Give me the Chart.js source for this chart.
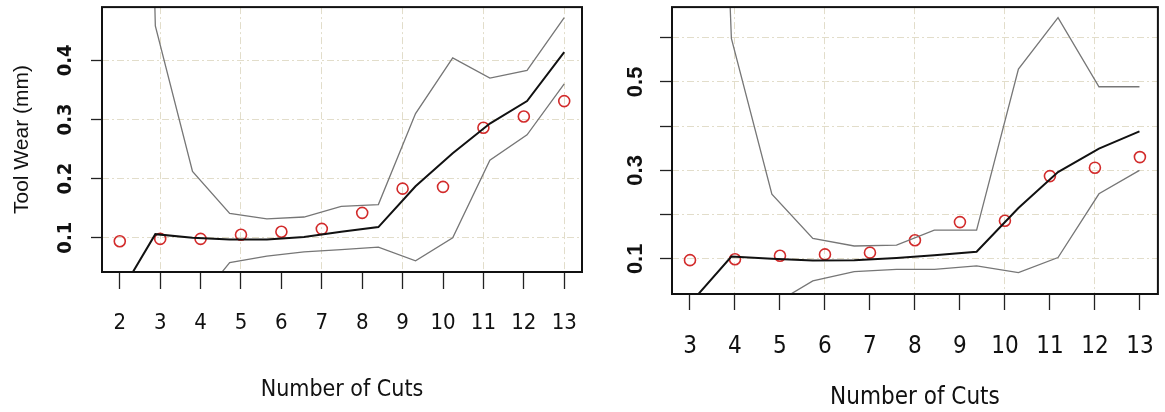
<!DOCTYPE html>
<html>
<head>
<meta charset="utf-8">
<script src="https://cdn.jsdelivr.net/npm/chart.js@4.4.1/dist/chart.umd.min.js"></script>
<style>
  html, body { margin: 0; padding: 0; background: #fff; }
  #wrap { position: relative; width: 1165px; height: 412px; }
  canvas { position: absolute; top: 0; }
  #wearLeft { left: 0; }
  #wearRight { left: 590px; }
</style>
</head>
<body>
<div id="wrap">
  <canvas id="wearLeft" width="590" height="412"></canvas>
  <canvas id="wearRight" width="575" height="412"></canvas>
</div>
<script>
// Tool wear against number of cuts: measured wear (red circles),
// fitted curve (black) and its upper / lower bounds (grey)

// left panel
const cutsLeft = [2, 3, 4, 5, 6, 7, 8, 9, 10, 11, 12, 13];
const wearLeft = [0.094, 0.098, 0.098, 0.105, 0.110, 0.115, 0.142, 0.183, 0.186, 0.286, 0.305, 0.331];
const fitXLeft = [1.96, 2.88, 3.80, 4.72, 5.64, 6.56, 7.48, 8.40, 9.32, 10.24, 11.16, 12.08, 13.00];
const fitLeft = [0.000, 0.106, 0.100, 0.097, 0.097, 0.101, 0.110, 0.118, 0.187, 0.243, 0.293, 0.331, 0.414];
const upperLeft = [3.000, 0.458, 0.212, 0.141, 0.132, 0.135, 0.153, 0.156, 0.310, 0.404, 0.370, 0.383, 0.472];
const lowerLeft = [-0.200, -0.100, -0.020, 0.058, 0.069, 0.076, 0.080, 0.084, 0.061, 0.100, 0.231, 0.274, 0.360];
const yTicksLeft = [0.1, 0.2, 0.3, 0.4];
const yLabelsLeft = ['0.1', '0.2', '0.3', '0.4'];
const xGridLeft = [3, 5, 7, 9, 11, 13];

// right panel
const cutsRight = [3, 4, 5, 6, 7, 8, 9, 10, 11, 12, 13];
const wearRight = [0.097, 0.099, 0.107, 0.110, 0.114, 0.142, 0.183, 0.186, 0.287, 0.306, 0.330];
const fitXRight = [3.01, 3.92, 4.82, 5.73, 6.65, 7.59, 8.43, 9.37, 10.30, 11.18, 12.09, 12.99];
const fitRight = [0.000, 0.105, 0.100, 0.096, 0.097, 0.102, 0.108, 0.116, 0.215, 0.296, 0.349, 0.388];
const upperRight = [3.000, 0.598, 0.246, 0.146, 0.129, 0.131, 0.165, 0.165, 0.529, 0.645, 0.489, 0.489];
const lowerRight = [-0.150, -0.060, -0.005, 0.050, 0.071, 0.076, 0.076, 0.084, 0.069, 0.103, 0.247, 0.300];
const yTicksRight = [0.1, 0.2, 0.3, 0.4, 0.5, 0.6];
const yValuesRight = [0.1, 0.3, 0.5];
const yLabelsRight = ['0.1', '0.3', '0.5'];
const xGridRight = [4, 6, 8, 10, 12];

const GRID = '#e2ddca';
const GRID_DASH = [7, 3, 2, 3];
const NARROW = "'Liberation Sans Narrow', 'DejaVu Sans Condensed', sans-serif";
const SANS = "'Liberation Sans', Arial, sans-serif";

const pairs = (xs, ys) => xs.map((x, i) => ({ x: x, y: ys[i] }));

// box round the plot region plus rotated y tick labels
const framePlugin = {
  id: 'frame',
  afterDraw(chart, args, opts) {
    const { ctx, chartArea: a } = chart;
    const y = chart.scales.y;
    ctx.save();
    ctx.strokeStyle = '#111';
    ctx.lineWidth = 2;
    ctx.strokeRect(a.left, a.top, a.right - a.left, a.bottom - a.top);
    ctx.fillStyle = '#111';
    ctx.font = opts.font;
    ctx.textAlign = 'center';
    ctx.textBaseline = 'middle';
    opts.values.forEach((v, i) => {
      ctx.save();
      ctx.translate(opts.labelX, y.getPixelForValue(v));
      ctx.rotate(-Math.PI / 2);
      ctx.fillText(opts.labels[i], 0, 0);
      ctx.restore();
    });
    ctx.restore();
  }
};

// no extra room for overhanging tick labels, the box goes edge to edge
const noOverhang = s => {
  s.paddingLeft = 0; s.paddingRight = 0;
  s.paddingTop = 0; s.paddingBottom = 0;
};

function buildPanel(canvasId, p) {
  const ctx = document.getElementById(canvasId);
  const band = {
    borderColor: '#767676', borderWidth: 1.3, pointRadius: 0, tension: 0, fill: false
  };
  return new Chart(ctx, {
    type: 'line',
    data: {
      datasets: [
        Object.assign({ data: pairs(p.fitX, p.upper) }, band),
        Object.assign({ data: pairs(p.fitX, p.lower) }, band),
        { data: pairs(p.fitX, p.fit), borderColor: '#111', borderWidth: 2, pointRadius: 0, tension: 0 },
        {
          data: pairs(p.cuts, p.wear), showLine: false,
          pointStyle: 'circle', pointRadius: 5.5,
          pointBorderColor: '#d22b2b', pointBorderWidth: 1.6,
          pointBackgroundColor: 'rgba(0,0,0,0)'
        }
      ]
    },
    options: {
      responsive: false,
      devicePixelRatio: 1,
      animation: false,
      events: [],
      layout: { padding: p.padding },
      plugins: {
        legend: { display: false },
        tooltip: { enabled: false },
        frame: { font: p.yFont, labelX: p.yLabelX, values: p.yValues, labels: p.yLabels }
      },
      scales: {
        x: {
          type: 'linear',
          min: p.xMin,
          max: p.xMax,
          afterBuildTicks: s => { s.ticks = p.cuts.map(v => ({ value: v })); },
          afterFit: s => { s.height = p.xAxisHeight; noOverhang(s); },
          grid: {
            color: c => (c.tick && p.xGrid.includes(c.tick.value)) ? GRID : 'rgba(0,0,0,0)',
            lineWidth: 1,
            borderDash: GRID_DASH,
            tickColor: '#222',
            tickWidth: 1.3,
            tickLength: p.xTickLength,
            tickBorderDash: []
          },
          border: { display: false, dash: GRID_DASH },
          ticks: {
            autoSkip: false, maxRotation: 0, color: '#111', padding: p.xTickPad,
            font: { family: NARROW, size: p.xFontSize }
          },
          title: {
            display: true, text: 'Number of Cuts', color: '#111',
            font: { family: NARROW, size: p.titleSize },
            padding: { top: 0, bottom: p.titlePad }
          }
        },
        y: {
          min: p.yMin,
          max: p.yMax,
          afterBuildTicks: s => { s.ticks = p.yTicks.map(v => ({ value: v })); },
          afterFit: s => { s.width = p.yAxisWidth; noOverhang(s); },
          grid: {
            color: GRID,
            lineWidth: 1,
            borderDash: GRID_DASH,
            tickColor: '#222',
            tickWidth: 1.3,
            tickLength: p.yTickLength,
            tickBorderDash: []
          },
          border: { display: false, dash: GRID_DASH },
          ticks: { display: false },
          title: {
            display: !!p.yTitle, text: p.yTitle || '', color: '#111',
            font: { family: SANS, size: 21 },
            padding: { top: 10, bottom: 0 }
          }
        }
      }
    },
    plugins: [framePlugin]
  });
}

buildPanel('wearLeft', {
  cuts: cutsLeft, wear: wearLeft, fitX: fitXLeft, fit: fitLeft,
  upper: upperLeft, lower: lowerLeft,
  yTicks: yTicksLeft, yValues: yTicksLeft, yLabels: yLabelsLeft, xGrid: xGridLeft,
  xMin: 1.56, xMax: 13.44, yMin: 0.042, yMax: 0.49,
  padding: { left: 0, top: 4, right: 8, bottom: 0 },
  xAxisHeight: 140, yAxisWidth: 102,
  xTickLength: 17, yTickLength: 11, xTickPad: 21, xFontSize: 22,
  titleSize: 23, titlePad: 8,
  yFont: 'bold 20px ' + NARROW, yLabelX: 66,
  yTitle: 'Tool Wear (mm)'
});

buildPanel('wearRight', {
  cuts: cutsRight, wear: wearRight, fitX: fitXRight, fit: fitRight,
  upper: upperRight, lower: lowerRight,
  yTicks: yTicksRight, yValues: yValuesRight, yLabels: yLabelsRight, xGrid: xGridRight,
  xMin: 2.6, xMax: 13.4, yMin: 0.0205, yMax: 0.669,
  padding: { left: 0, top: 6, right: 3, bottom: 0 },
  xAxisHeight: 118, yAxisWidth: 82,
  xTickLength: 16, yTickLength: 12, xTickPad: 22, xFontSize: 24,
  titleSize: 24, titlePad: 0,
  yFont: 'bold 22px ' + SANS, yLabelX: 46,
  yTitle: null
});
</script>
</body>
</html>
